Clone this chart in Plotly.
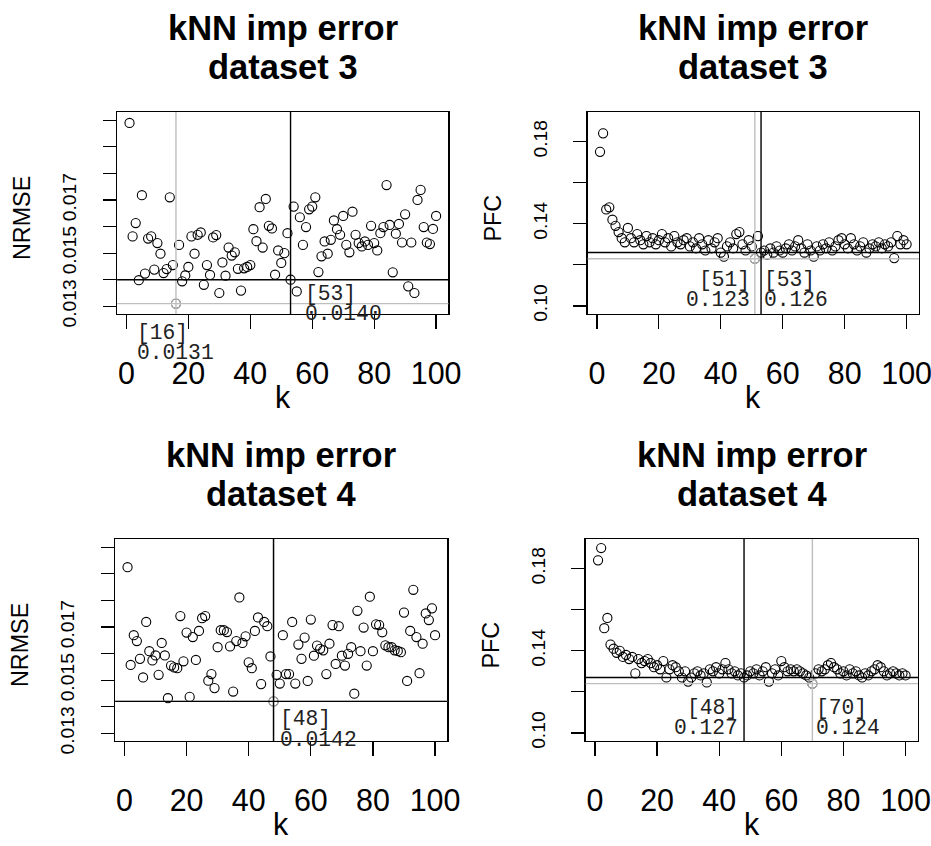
import numpy as np
import plotly.graph_objects as go

# ---------------- data ----------------
K = list(range(1, 101))

NRMSE_3 = [0.0199, 0.01563, 0.01613, 0.01398, 0.01718, 0.01423, 0.01555, 0.01563, 0.01438, 0.01538,
           0.01498, 0.01425, 0.0144, 0.0171, 0.01455, 0.0131, 0.01531, 0.01394, 0.01416, 0.01448,
           0.01563, 0.01498, 0.01569, 0.01578, 0.01381, 0.01455, 0.01418, 0.01559, 0.01568, 0.0135,
           0.01465, 0.01415, 0.01521, 0.01491, 0.01503, 0.01441, 0.01359, 0.01443, 0.01448, 0.01455,
           0.0159, 0.01545, 0.01673, 0.01521, 0.01704, 0.01603, 0.01593, 0.01419, 0.0151, 0.01463,
           0.0150, 0.01575, 0.0140, 0.01675, 0.01356, 0.01635, 0.01531, 0.01598, 0.01665, 0.01675,
           0.0171, 0.01429, 0.01488, 0.01544, 0.01498, 0.0155, 0.01623, 0.0159, 0.01569, 0.0164,
           0.01531, 0.01503, 0.01656, 0.01569, 0.01538, 0.01525, 0.01544, 0.01531, 0.01603, 0.01538,
           0.0151, 0.01575, 0.01598, 0.01756, 0.01606, 0.01428, 0.01573, 0.0161, 0.0154, 0.01646,
           0.01375, 0.0154, 0.0135, 0.017, 0.01738, 0.01598, 0.0154, 0.01534, 0.01591, 0.0164]

PFC_3 = [0.175, 0.184, 0.147, 0.148, 0.142, 0.139, 0.136, 0.133, 0.131, 0.138,
         0.133, 0.131, 0.135, 0.132, 0.130, 0.134, 0.131, 0.133, 0.130, 0.132,
         0.135, 0.131, 0.133, 0.129, 0.134, 0.131, 0.130, 0.132, 0.133, 0.129,
         0.131, 0.128, 0.133, 0.130, 0.127, 0.132, 0.128, 0.131, 0.133, 0.126,
         0.124, 0.129, 0.131, 0.128, 0.135, 0.136, 0.130, 0.127, 0.132, 0.129,
         0.1230, 0.134, 0.126, 0.127, 0.125, 0.128, 0.126, 0.129, 0.127, 0.126,
         0.128, 0.130, 0.127, 0.129, 0.132, 0.128, 0.126, 0.130, 0.127, 0.124,
         0.129, 0.127, 0.130, 0.128, 0.131, 0.127, 0.129, 0.132, 0.133, 0.130,
         0.128, 0.133, 0.130, 0.127, 0.129, 0.131, 0.126, 0.128, 0.130, 0.129,
         0.131, 0.128, 0.130, 0.129, 0.131, 0.1233, 0.134, 0.130, 0.132, 0.130]

NRMSE_4 = [0.01925, 0.01557, 0.01669, 0.01647, 0.0158, 0.0151, 0.01719, 0.01609, 0.01574, 0.01593,
           0.0152, 0.0164, 0.01593, 0.01432, 0.01555, 0.01548, 0.01545, 0.01741, 0.01571, 0.01679,
           0.01437, 0.01662, 0.01576, 0.01685, 0.01733, 0.01741, 0.01498, 0.01523, 0.0147, 0.01624,
           0.01688, 0.01688, 0.01681, 0.01627, 0.01457, 0.01647, 0.01811, 0.0164, 0.01665, 0.01567,
           0.01545, 0.01685, 0.01736, 0.01485, 0.01719, 0.01703, 0.01589, 0.0142, 0.0152, 0.01487,
           0.01669, 0.01523, 0.01523, 0.01719, 0.01487, 0.01634, 0.0158, 0.0166, 0.01497, 0.01728,
           0.01592, 0.0163, 0.01618, 0.01612, 0.01523, 0.01637, 0.01707, 0.01561, 0.01703, 0.01592,
           0.01555, 0.01599, 0.01624, 0.01449, 0.01761, 0.01609, 0.01698, 0.01555, 0.01814, 0.01609,
           0.0171, 0.01707, 0.0168, 0.01631, 0.01624, 0.01624, 0.01612, 0.0161, 0.01605, 0.01754,
           0.01497, 0.01685, 0.0184, 0.01662, 0.01526, 0.01637, 0.01751, 0.01726, 0.0177, 0.01669]

PFC_4 = [0.184, 0.190, 0.151, 0.156, 0.143, 0.141, 0.139, 0.140, 0.137, 0.138,
         0.136, 0.137, 0.129, 0.136, 0.134, 0.135, 0.136, 0.134, 0.132, 0.133,
         0.131, 0.135, 0.127, 0.131, 0.133, 0.132, 0.130, 0.127, 0.130, 0.125,
         0.127, 0.129, 0.130, 0.128, 0.129, 0.1246, 0.131, 0.130, 0.132, 0.129,
         0.131, 0.134, 0.131, 0.129, 0.130, 0.128, 0.129, 0.127, 0.128, 0.130,
         0.129, 0.131, 0.128, 0.130, 0.132, 0.125, 0.129, 0.131, 0.128, 0.135,
         0.132, 0.130, 0.131, 0.130, 0.131, 0.130, 0.129, 0.128, 0.127, 0.124,
         0.129, 0.131, 0.130, 0.131, 0.133, 0.134, 0.132, 0.131, 0.129, 0.130,
         0.128, 0.131, 0.129, 0.130, 0.128, 0.127, 0.129, 0.128, 0.130, 0.131,
         0.133, 0.132, 0.130, 0.128, 0.129, 0.130, 0.129, 0.128, 0.129, 0.128]

CHOSEN_K = [53, 53, 48, 48]          # black reference lines
TITLES = ["dataset 3", "dataset 3", "dataset 4", "dataset 4"]
YLABELS = ["NRMSE", "PFC", "NRMSE", "PFC"]
X_TICKS = [0, 20, 40, 60, 80, 100]
NRMSE_TICKS = [0.013, 0.014, 0.015, 0.016, 0.017, 0.018, 0.019, 0.020]
NRMSE_TICKTEXT = ["0.013", "", "0.015", "", "0.017", "", "", ""]
PFC_TICKS = [0.10, 0.12, 0.14, 0.16, 0.18]
PFC_TICKTEXT = ["0.10", "", "0.14", "", "0.18"]

SERIES = [NRMSE_3, PFC_3, NRMSE_4, PFC_4]

# ---------------- layout ----------------
# positions are measured on the 931x846 reference; the captured page area is
# about 1.5% larger than the figure, so the figure is drawn at that size.
W, H = 931, 846
S = 945 / 931
FIG_W, FIG_H = 945, 859
BOXES = [(117, 448, 112, 314), (587, 918, 112, 314),
         (115, 447, 539, 741), (585, 917, 539, 741)]
YRANGES = [[0.01271, 0.02031], [0.0961, 0.1944], [0.01271, 0.02031], [0.0961, 0.1944]]
XRANGE = [-3.0, 104.0]
GRAY = "#BEBEBE"
SANS = "Liberation Sans, Arial, sans-serif"
MONO = "Liberation Mono, Courier New, monospace"

# label placement per panel: (anchor side, dx px, dy px) for black / gray labels
LBL = [
    dict(black=("left", 13, 1), gray=("left", -39, 16)),
    dict(black=("left", 2, 14), gray=("right", -4, 8)),
    dict(black=("left", 5, 5), gray=("left", 5, 5)),
    dict(black=("right", -5, 17), gray=("left", 3, 11)),
]


def fmt3(v):
    return np.format_float_positional(v, precision=3, unique=False, fractional=False, trim="k")


def py(p):
    return 1 - p / H


def px(v):
    return v * S


fig = go.Figure()
ann = []
shapes = []

for i, ys in enumerate(SERIES):
    n = i + 1
    xa = "x" if n == 1 else f"x{n}"
    ya = "y" if n == 1 else f"y{n}"
    x0, x1, y0, y1 = BOXES[i]
    xd = [x0 / W, x1 / W]
    yd = [py(y1), py(y0)]
    is_nrmse = YLABELS[i] == "NRMSE"

    fig.add_trace(go.Scatter(
        x=K, y=ys, mode="markers", xaxis=xa, yaxis=ya, showlegend=False, hoverinfo="skip",
        marker=dict(symbol="circle-open", size=px(9), color="black", line=dict(width=1.1))))

    kb = CHOSEN_K[i]
    vb = ys[kb - 1]
    kg = int(np.argmin(ys)) + 1
    vg = ys[kg - 1]

    for (kk, vv, col) in [(kg, vg, GRAY), (kb, vb, "black")]:
        shapes.append(dict(type="line", xref=xa, yref=f"{ya} domain", x0=kk, x1=kk, y0=0, y1=1,
                           line=dict(color=col, width=1.4)))
        shapes.append(dict(type="line", xref=f"{xa} domain", yref=ya, x0=0, x1=1, y0=vv, y1=vv,
                           line=dict(color=col, width=1.4)))
    fig.add_trace(go.Scatter(
        x=[kg], y=[vg], mode="markers", xaxis=xa, yaxis=ya, showlegend=False, hoverinfo="skip",
        marker=dict(symbol="circle-open", size=px(9), color=GRAY, line=dict(width=1.1))))

    for key, kk, vv, col in [("gray", kg, vg, GRAY), ("black", kb, vb, "black")]:
        if key == "gray" and kk == kb:
            continue
        side, dx, dy = LBL[i][key]
        for j, line in enumerate([f"[{kk}]", fmt3(vv)]):
            ann.append(dict(xref=xa, yref=ya, x=kk, y=vv, text=line, showarrow=False,
                            xanchor=side, yanchor="top", xshift=px(dx), yshift=px(-dy - j * 20),
                            font=dict(family=MONO, size=px(21), color="#222222"),
                            borderpad=0))

    cx = (x0 + x1) / 2 / W
    ann.append(dict(xref="paper", yref="paper", x=cx, y=py(y0 - 84), text="<b>kNN imp error</b>",
                    showarrow=False, xanchor="center", yanchor="middle",
                    font=dict(family=SANS, size=px(34), color="black")))
    ann.append(dict(xref="paper", yref="paper", x=cx, y=py(y0 - 45), text=f"<b>{TITLES[i]}</b>",
                    showarrow=False, xanchor="center", yanchor="middle",
                    font=dict(family=SANS, size=px(34), color="black")))
    ann.append(dict(xref="paper", yref="paper", x=cx, y=py(y1 + 83), text="k",
                    showarrow=False, xanchor="center", yanchor="middle",
                    font=dict(family=SANS, size=px(30), color="black")))
    ann.append(dict(xref="paper", yref="paper", x=(x0 - 95) / W, y=py((y0 + y1 + 10) / 2),
                    text=YLABELS[i], textangle=-90, showarrow=False,
                    xanchor="center", yanchor="middle",
                    font=dict(family=SANS, size=px(23), color="black")))

    axis_common = dict(showline=True, mirror=True, linecolor="black", linewidth=1.2,
                       showgrid=False, zeroline=False, ticks="outside", tickcolor="black",
                       tickwidth=1.2)
    fig.update_layout(**{
        ("xaxis" if n == 1 else f"xaxis{n}"): dict(
            domain=xd, anchor=ya, range=XRANGE, tickvals=X_TICKS, ticklen=px(14),
            ticklabelstandoff=round(px(18)), tickfont=dict(family=SANS, size=px(30), color="black"),
            **axis_common),
        ("yaxis" if n == 1 else f"yaxis{n}"): dict(
            domain=yd, anchor=xa, range=YRANGES[i], ticklen=px(13),
            tickvals=NRMSE_TICKS if is_nrmse else PFC_TICKS,
            ticktext=NRMSE_TICKTEXT if is_nrmse else PFC_TICKTEXT,
            tickangle=-90, ticklabelstandoff=round(px(19)),
            tickfont=dict(family=SANS, size=px(19), color="black"), **axis_common),
    })

fig.update_layout(width=FIG_W, height=FIG_H, margin=dict(l=0, r=0, t=0, b=0),
                  paper_bgcolor="white", plot_bgcolor="white", hovermode=False,
                  annotations=ann, shapes=shapes)
fig.write_html(
    "out.html",
    config={"displayModeBar": False, "staticPlot": True},
    post_script=("document.documentElement.style.overflow='hidden';"
                 "document.body.style.margin='0';document.body.style.overflow='hidden';"),
)
